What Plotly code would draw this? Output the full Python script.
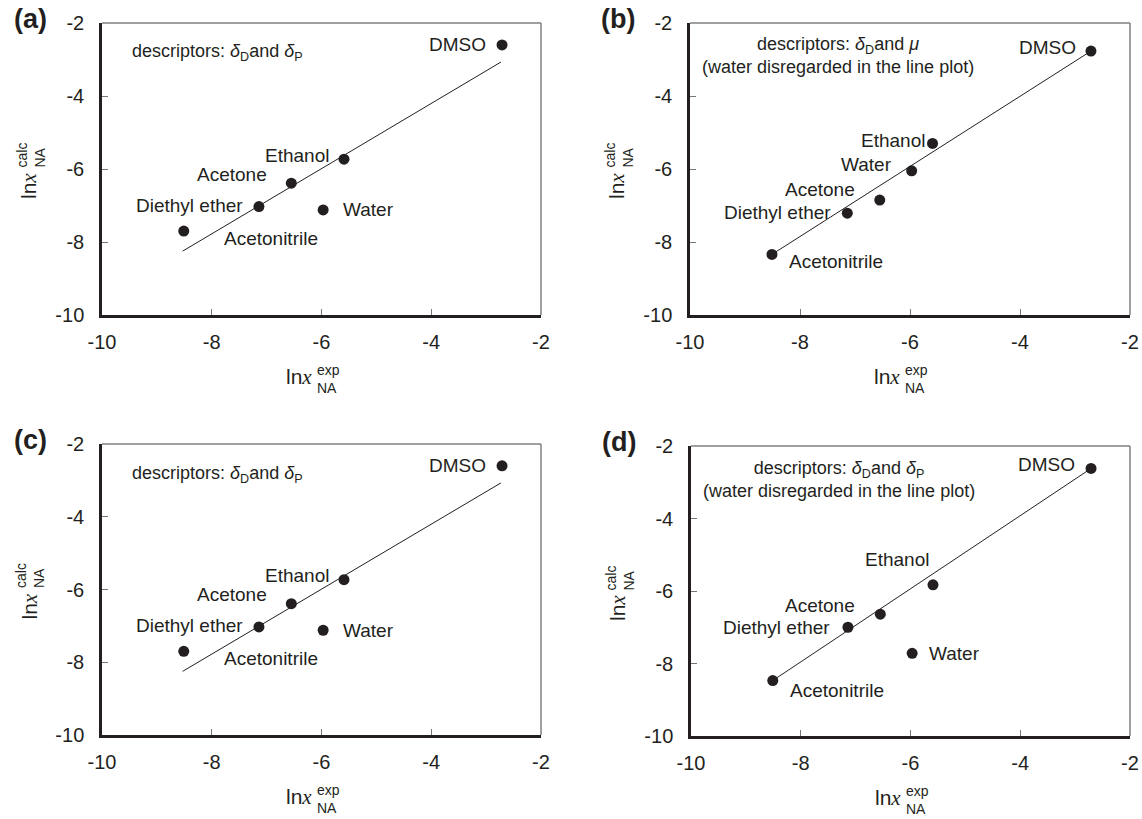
import plotly.graph_objects as go

# ---------------- data ----------------
solvents = ["Acetonitrile", "Diethyl ether", "Acetone", "Water", "Ethanol", "DMSO"]
ln_x_exp = [-8.51, -7.14, -6.55, -5.97, -5.59, -2.71]

ln_x_calc_a = [-7.70, -7.03, -6.39, -7.12, -5.73, -2.60]
ln_x_calc_b = [-8.34, -7.21, -6.85, -6.05, -5.30, -2.77]
ln_x_calc_c = [-7.70, -7.03, -6.39, -7.12, -5.73, -2.60]
ln_x_calc_d = [-8.47, -7.00, -6.64, -7.72, -5.83, -2.62]

line_x_a = [-8.53, -2.73]
line_y_a = [-8.25, -3.07]
line_x_b = [-8.50, -2.71]
line_y_b = [-8.33, -2.77]
line_x_c = [-8.53, -2.73]
line_y_c = [-8.25, -3.07]
line_x_d = [-8.50, -2.71]
line_y_d = [-8.46, -2.62]

tick_vals = [-10, -8, -6, -4, -2]
tick_text = ["-10", "-8", "-6", "-4", "-2"]

panel_letters = ["(a)", "(b)", "(c)", "(d)"]
descriptor_a = "descriptors: <i>δ</i><sub>D</sub>and <i>δ</i><sub>P</sub>"
descriptor_b = "descriptors: <i>δ</i><sub>D</sub>and <i>μ</i><br>(water disregarded in the line plot)"
descriptor_c = "descriptors: <i>δ</i><sub>D</sub>and <i>δ</i><sub>P</sub>"
descriptor_d = "descriptors: <i>δ</i><sub>D</sub>and <i>δ</i><sub>P</sub><br>(water disregarded in the line plot)"

# ---------------- layout helpers ----------------
W, H = 1142, 819
INK = "#231f20"
FONT = "Liberation Sans, Arial, sans-serif"


def fx(p):
    return p / W


def fy(p):
    return 1 - p / H


# plot-area pixel boxes in window coordinates: (left, right, top, bottom)
boxes = [(102, 541, 23, 315), (690, 1130, 23, 315),
         (102, 541, 444, 735), (691, 1130, 446, 736)]

# label placement per solvent: (xanchor, xshift, yshift)
offs_a = {"Acetonitrile": ("left", 38, -7), "Diethyl ether": ("right", -14, 1),
          "Acetone": ("right", -22, 9), "Water": ("left", 18, 0),
          "Ethanol": ("right", -13, 4), "DMSO": ("right", -14, 0)}
offs_b = {"Acetonitrile": ("left", 15, -7), "Diethyl ether": ("right", -14, 1),
          "Acetone": ("right", -23, 11), "Water": ("right", -18, 6),
          "Ethanol": ("right", -6, 3), "DMSO": ("right", -13, 4)}
offs_d = {"Acetonitrile": ("left", 15, -10), "Diethyl ether": ("right", -16, 0),
          "Acetone": ("right", -23, 9), "Water": ("left", 15, 0),
          "Ethanol": ("right", -2, 25), "DMSO": ("right", -14, 4)}

panels = [
    (ln_x_calc_a, line_x_a, line_y_a, descriptor_a, offs_a, "left"),
    (ln_x_calc_b, line_x_b, line_y_b, descriptor_b, offs_b, "center"),
    (ln_x_calc_c, line_x_c, line_y_c, descriptor_c, offs_a, "left"),
    (ln_x_calc_d, line_x_d, line_y_d, descriptor_d, offs_d, "center"),
]

fig = go.Figure()
layout = dict(
    width=W, height=H, margin=dict(l=0, r=0, t=0, b=0, autoexpand=False),
    paper_bgcolor="white", plot_bgcolor="white", showlegend=False,
    font=dict(family=FONT, color=INK, size=18),
)
annotations = []
shapes = []

for i, (calc, lx, ly, desc, offs, desc_align) in enumerate(panels):
    n = i + 1
    xs = "x" if n == 1 else f"x{n}"
    ys = "y" if n == 1 else f"y{n}"
    xa = "xaxis" if n == 1 else f"xaxis{n}"
    ya = "yaxis" if n == 1 else f"yaxis{n}"
    L, R, T, B = boxes[i]

    fig.add_trace(go.Scatter(x=lx, y=ly, mode="lines", xaxis=xs, yaxis=ys,
                             line=dict(color=INK, width=1), hoverinfo="skip"))
    fig.add_trace(go.Scatter(x=ln_x_exp, y=calc, mode="markers", xaxis=xs, yaxis=ys,
                             marker=dict(color=INK, size=11), text=solvents))

    common = dict(range=[-10, -2], tickvals=tick_vals, ticktext=tick_text,
                  showgrid=False, zeroline=False, showline=True, automargin=False,
                  linecolor=INK, linewidth=2.5, ticks="inside", ticklen=6,
                  tickcolor="#777777", tickwidth=1,
                  tickfont=dict(family=FONT, size=20, color=INK))
    layout[xa] = dict(common, domain=[fx(L), fx(R)], anchor=ys, ticklabelstandoff=7)
    layout[ya] = dict(common, domain=[fy(B), fy(T)], anchor=xs, ticklabelstandoff=11)

    # thin grey top and right frame lines
    shapes.append(dict(type="line", xref=f"{xs} domain", yref=f"{ys} domain",
                       x0=0, x1=1, y0=1, y1=1, line=dict(color="#808080", width=1.5)))
    shapes.append(dict(type="line", xref=f"{xs} domain", yref=f"{ys} domain",
                       x0=1, x1=1, y0=0, y1=1, line=dict(color="#808080", width=1.5)))

    # point labels
    for s, xv, yv in zip(solvents, ln_x_exp, calc):
        anc, dx, dy = offs[s]
        annotations.append(dict(x=xv, y=yv, xref=xs, yref=ys, text=s, showarrow=False,
                                xanchor=anc, yanchor="middle", xshift=dx, yshift=dy,
                                font=dict(family=FONT, size=19, color=INK)))

    # descriptor text
    if desc_align == "left":
        annotations.append(dict(x=fx(L + 28), y=fy(T + 30), xref="paper", yref="paper",
                                text=desc, showarrow=False, xanchor="left", yanchor="middle",
                                font=dict(family=FONT, size=18, color=INK)))
    else:
        annotations.append(dict(x=fx(L + 148), y=fy(T + 33), xref="paper", yref="paper",
                                text=desc, showarrow=False, xanchor="center", yanchor="middle",
                                align="center",
                                font=dict(family=FONT, size=18, color=INK)))

    # panel letter
    annotations.append(dict(x=fx(L - 72), y=fy(T - 4), xref="paper", yref="paper",
                            text=f"<b>{panel_letters[i]}</b>", showarrow=False,
                            xanchor="center", yanchor="middle",
                            font=dict(family=FONT, size=27, color=INK)))

    # x-axis title: ln x ^exp _NA
    cx = (L + R) / 2
    annotations.append(dict(x=fx(cx - 8), y=fy(B + 62), xref="paper", yref="paper",
                            text="ln<span style='font-family:Liberation Serif'><i>x</i></span>",
                            showarrow=False, xanchor="right", yanchor="middle",
                            font=dict(family=FONT, size=21, color=INK)))
    annotations.append(dict(x=fx(cx - 7), y=fy(B + 64), xref="paper", yref="paper",
                            text="exp<br>NA", showarrow=False, xanchor="left", yanchor="middle",
                            align="left",
                            font=dict(family=FONT, size=14, color=INK)))

    # y-axis title: ln x ^calc _NA (rotated)
    cy = (T + B) / 2
    annotations.append(dict(x=fx(L - 73), y=fy(cy + 2), xref="paper", yref="paper",
                            text="ln<span style='font-family:Liberation Serif'><i>x</i></span>",
                            showarrow=False, textangle=-90, xanchor="center", yanchor="top",
                            font=dict(family=FONT, size=21, color=INK)))
    annotations.append(dict(x=fx(L - 72), y=fy(cy + 1), xref="paper", yref="paper",
                            text="calc<br>NA", showarrow=False, textangle=-90,
                            xanchor="center", yanchor="bottom", align="left",
                            font=dict(family=FONT, size=14, color=INK)))

layout["annotations"] = annotations
layout["shapes"] = shapes
fig.update_layout(**layout)
fig.write_html(
    "out.html",
    config={"displayModeBar": False},
    post_script="document.body.style.margin='0';document.body.style.overflow='hidden';",
)
